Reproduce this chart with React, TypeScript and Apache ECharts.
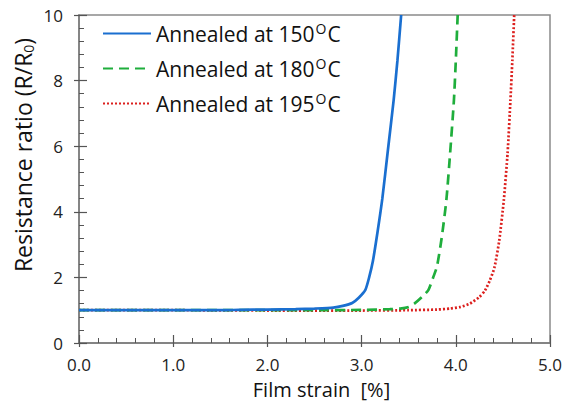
import React, { useEffect, useRef } from "react";
import * as echarts from "echarts";

const seriesNames = ["Annealed at 150", "Annealed at 180", "Annealed at 195"];
const xTicks = [0, 1, 2, 3, 4, 5];
const yTicks = [0, 2, 4, 6, 8, 10];
const anneal150: [number, number][] = [
  [0, 1], [0.5, 1], [1.0, 1], [1.5, 1], [1.7, 1.01], [2.0, 1.02], [2.3, 1.03], [2.5, 1.05],
  [2.7, 1.08], [2.8, 1.13], [2.9, 1.22], [2.97, 1.38], [3.04, 1.62], [3.08, 2.0], [3.12, 2.5],
  [3.17, 3.4], [3.22, 4.4], [3.28, 5.9], [3.34, 7.4], [3.38, 8.6], [3.42, 10],
];
const anneal180: [number, number][] = [
  [0, 1], [1.0, 1], [2.0, 1], [2.5, 1], [3.0, 1.01], [3.3, 1.03], [3.41, 1.05], [3.5, 1.1],
  [3.56, 1.2], [3.64, 1.4], [3.71, 1.62], [3.76, 2.0], [3.8, 2.33], [3.85, 3.2], [3.9, 4.36],
  [3.94, 5.8], [3.98, 7.4], [4.0, 8.6], [4.02, 10],
];
const anneal195: [number, number][] = [
  [0, 1], [1.0, 1], [2.0, 0.99], [3.0, 0.99], [3.5, 1.0], [3.8, 1.02], [3.94, 1.05], [4.05, 1.1],
  [4.15, 1.2], [4.25, 1.4], [4.31, 1.6], [4.36, 1.9], [4.41, 2.3], [4.46, 3.1], [4.51, 4.36],
  [4.55, 5.8], [4.58, 7.4], [4.6, 8.6], [4.62, 10],
];
const colors = ["#1a6fd0", "#1fae3c", "#dc201e"];
const lineTypes: any[] = ["solid", [10, 6], [2, 2]];

export default function App() {
  const ref = useRef<HTMLDivElement>(null);
  useEffect(() => {
    const chart = echarts.init(ref.current!, null, { renderer: "svg" });
    const font = "'Open Sans', sans-serif";
    const datas = [anneal150, anneal180, anneal195];
    const axisCommon = {
      type: "value",
      splitLine: { show: false },
    };
    chart.setOption({
      animation: false,
      textStyle: { fontFamily: font },
      grid: {
        left: 79, right: 21, top: 15, bottom: 58, show: true, borderColor: "#8a8a8a", borderWidth: 1.5,
        containLabel: false, outerBoundsMode: "none",
      },
      legend: {
        orient: "vertical",
        left: 97,
        top: 16,
        itemWidth: 48,
        itemHeight: 14,
        itemGap: 12,
        data: seriesNames,
        itemStyle: { opacity: 0 },
        formatter: (n: string) => `{a|${n}}{s|O}{a|C}`,
        textStyle: {
          color: "#111",
          fontFamily: font,
          rich: {
            a: { fontSize: 21, fontFamily: font, color: "#111", lineHeight: 24 },
            s: { fontSize: 14, fontFamily: font, color: "#111", padding: [0, 1, 11, 1] },
          },
        },
      },
      graphic: [
        {
          type: "text",
          x: 23,
          y: 155,
          rotation: Math.PI / 2,
          style: {
            text: "{a|Resistance ratio (R/R}{b|0}{a|)}",
            align: "center",
            verticalAlign: "middle",
            rich: {
              a: { fontSize: 23, fill: "#111", fontFamily: font },
              b: { fontSize: 14, fill: "#111", fontFamily: font, padding: [10, 0, 0, 0] },
            },
          },
        },
      ],
      xAxis: [
        {
          ...axisCommon,
          min: 0,
          max: 5,
          interval: 1,
          name: "Film strain  [%]",
          nameLocation: "middle",
          nameGap: 35,
          nameTextStyle: { fontSize: 20, color: "#111", fontFamily: font, padding: [0, 0, 0, 14], lineHeight: 22 },
          axisLine: { lineStyle: { color: "#7a7a7a", width: 1.5 } },
          axisTick: { inside: true, length: 8, lineStyle: { color: "#555", width: 1.2 } },
          minorTick: { show: true, splitNumber: 5, length: 5, lineStyle: { color: "#555", width: 1 } },
          axisLabel: {
            fontSize: 17,
            color: "#222",
            margin: 13,
            formatter: (v: number) => (xTicks.includes(v) ? v.toFixed(1) : ""),
            fontFamily: font,
          },
        },
        {
          ...axisCommon,
          min: 0,
          max: 5,
          interval: 1,
          position: "bottom",
          axisLine: { show: false },
          axisTick: { inside: false, length: 4, lineStyle: { color: "#555", width: 1.2 } },
          axisLabel: { show: false },
        },
      ],
      yAxis: [
        {
          ...axisCommon,
          min: 0,
          max: 10,
          interval: 2,
          axisLine: { lineStyle: { color: "#7a7a7a", width: 1.5 } },
          axisTick: { inside: true, length: 8, lineStyle: { color: "#555", width: 1.2 } },
          minorTick: { show: true, splitNumber: 5, length: 5, lineStyle: { color: "#555", width: 1 } },
          axisLabel: {
            fontSize: 17,
            color: "#222",
            margin: 16,
            fontFamily: font,
            formatter: (v: number) => (yTicks.includes(v) ? String(v) : ""),
          },
        },
        {
          ...axisCommon,
          min: 0,
          max: 10,
          interval: 2,
          position: "left",
          axisLine: { show: false },
          axisTick: { inside: false, length: 5, lineStyle: { color: "#555", width: 1.2 } },
          axisLabel: { show: false },
        },
      ],
      series: seriesNames.map((n, i) => ({
        name: n,
        type: "line",
        data: datas[i],
        symbol: "none",
        smooth: 0.2,
        clip: true,
        z: 3 - i,
        lineStyle: { color: colors[i], width: 2.7, type: lineTypes[i] },
        itemStyle: { color: colors[i] },
      })),
    });
    return () => chart.dispose();
  }, []);
  return <div ref={ref} style={{ width: 571, height: 401, position: "absolute", left: 0, top: 0 }} />;
}
